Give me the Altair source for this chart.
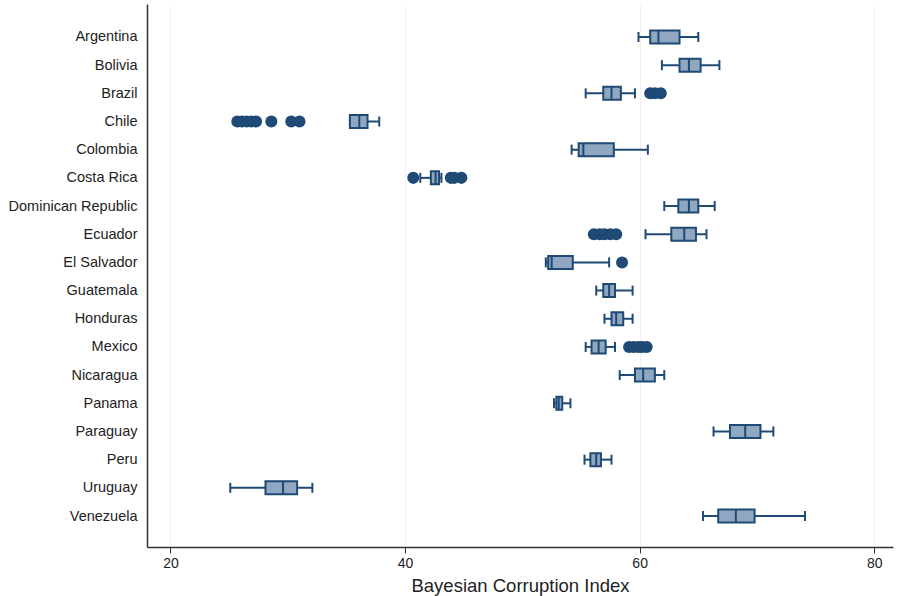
import json
import altair as alt
import pandas as pd

# Box-plot summary per country: whisker ends, quartiles and median
countries = [
    "Argentina", "Bolivia", "Brazil", "Chile", "Colombia", "Costa Rica",
    "Dominican Republic", "Ecuador", "El Salvador", "Guatemala", "Honduras",
    "Mexico", "Nicaragua", "Panama", "Paraguay", "Peru", "Uruguay", "Venezuela",
]
whisker_lo = [59.9, 61.9, 55.4, 35.3, 54.2, 41.3, 62.1, 60.5, 52.0, 56.3, 57.0, 55.4, 58.3, 52.7, 66.3, 55.3, 25.1, 65.4]
q1 =         [60.9, 63.4, 56.9, 35.3, 54.8, 42.2, 63.3, 62.7, 52.2, 56.9, 57.6, 55.9, 59.6, 52.9, 67.7, 55.8, 28.1, 66.7]
median =     [61.6, 64.2, 57.6, 36.1, 55.2, 42.6, 64.2, 63.8, 52.5, 57.4, 58.0, 56.5, 60.3, 53.1, 69.0, 56.3, 29.6, 68.2]
q3 =         [63.4, 65.2, 58.4, 36.8, 57.8, 42.9, 65.0, 64.8, 54.3, 57.9, 58.6, 57.1, 61.3, 53.4, 70.3, 56.7, 30.8, 69.8]
whisker_hi = [65.0, 66.8, 59.6, 37.8, 60.7, 43.1, 66.4, 65.7, 57.4, 59.4, 59.4, 57.9, 62.1, 54.1, 71.4, 57.6, 32.1, 74.1]

# Outlying observations
outlier_country = (
    ["Brazil"] * 3
    + ["Chile"] * 8
    + ["Costa Rica"] * 4
    + ["Ecuador"] * 5
    + ["El Salvador"]
    + ["Mexico"] * 5
)
outlier_value = (
    [60.9, 61.3, 61.8]
    + [25.7, 26.1, 26.5, 26.9, 27.3, 28.6, 30.3, 31.0]
    + [40.7, 43.9, 44.2, 44.8]
    + [56.1, 56.6, 57.0, 57.5, 58.0]
    + [58.5]
    + [59.1, 59.5, 59.9, 60.2, 60.6]
)

x_ticks = [20, 40, 60, 80]

# Rows are placed by their position in the country list
row_of = {c: i for i, c in enumerate(countries)}
boxes = pd.DataFrame({
    "country": countries, "row": list(range(len(countries))),
    "lo": whisker_lo, "q1": q1, "med": median, "q3": q3, "hi": whisker_hi,
})
outliers = pd.DataFrame({
    "country": outlier_country,
    "row": [row_of[c] for c in outlier_country],
    "value": outlier_value,
})

NAVY = "#1f4a75"
FILL = "#8fa7c0"
FONT = "Liberation Sans"

x_scale = alt.Scale(domain=[18, 81.6], nice=False, zero=False, padding=0)
# Row 0 at the top, with a little more than one row of space above and below
y_scale = alt.Scale(domain=[18.1, -1.17], nice=False, zero=False, padding=0)

label_expr = json.dumps(countries) + "[datum.value]"
y_axis = alt.Axis(values=list(range(len(countries))), labelExpr=label_expr,
                  ticks=False, labelPadding=10, labelFontSize=14.5,
                  labelColor="#222", labelFont=FONT, domainColor="#333",
                  domainWidth=1.5, grid=False, labelBaseline="middle",
                  labelOverlap=False, labelFlush=False, labelBound=False,
                  title=None)
x_axis = alt.Axis(values=x_ticks, grid=True, gridColor="#eef2f6", gridWidth=1,
                  tickSize=6, tickColor="#333", domainColor="#333",
                  domainWidth=1.5, labelFontSize=14, labelColor="#222",
                  labelFont=FONT, labelPadding=3, labelOverlap=False,
                  title="Bayesian Corruption Index",
                  titleFontSize=18.5, titleFont=FONT, titleFontWeight="normal",
                  titleColor="#222", titlePadding=6)


def y_enc():
    return alt.Y("row:Q", scale=y_scale, axis=y_axis, title=None)


def x_enc(field):
    return alt.X(field, scale=x_scale, axis=x_axis, title="Bayesian Corruption Index")


base = alt.Chart(boxes)

whiskers = base.mark_rule(color=NAVY, strokeWidth=2).encode(
    x=x_enc("lo:Q"), x2="hi:Q", y=y_enc(),
)
cap_lo = base.mark_tick(color=NAVY, thickness=2, size=10, opacity=1, orient="vertical").encode(
    x=x_enc("lo:Q"), y=y_enc()
)
cap_hi = base.mark_tick(color=NAVY, thickness=2, size=10, opacity=1, orient="vertical").encode(
    x=x_enc("hi:Q"), y=y_enc()
)
box = base.mark_bar(fill=FILL, stroke=NAVY, strokeWidth=2, size=13, opacity=1,
                    orient="horizontal").encode(
    x=x_enc("q1:Q"), x2="q3:Q", y=y_enc(),
)
med_tick = base.mark_tick(color=NAVY, thickness=2, size=13, opacity=1, orient="vertical").encode(
    x=x_enc("med:Q"), y=y_enc()
)
dots = alt.Chart(outliers).mark_circle(color=NAVY, size=145, opacity=1).encode(
    x=x_enc("value:Q"), y=y_enc()
)

chart = (
    alt.layer(whiskers, cap_lo, cap_hi, box, med_tick, dots)
    .properties(
        width=746, height=543,
        autosize=alt.AutoSizeParams(type="none"),
        padding={"left": 147, "top": 4, "right": 6, "bottom": 49},
        background="white",
    )
    .configure_view(strokeWidth=0)
)

chart.save("out.html", embed_options={"renderer": "svg", "actions": False})
